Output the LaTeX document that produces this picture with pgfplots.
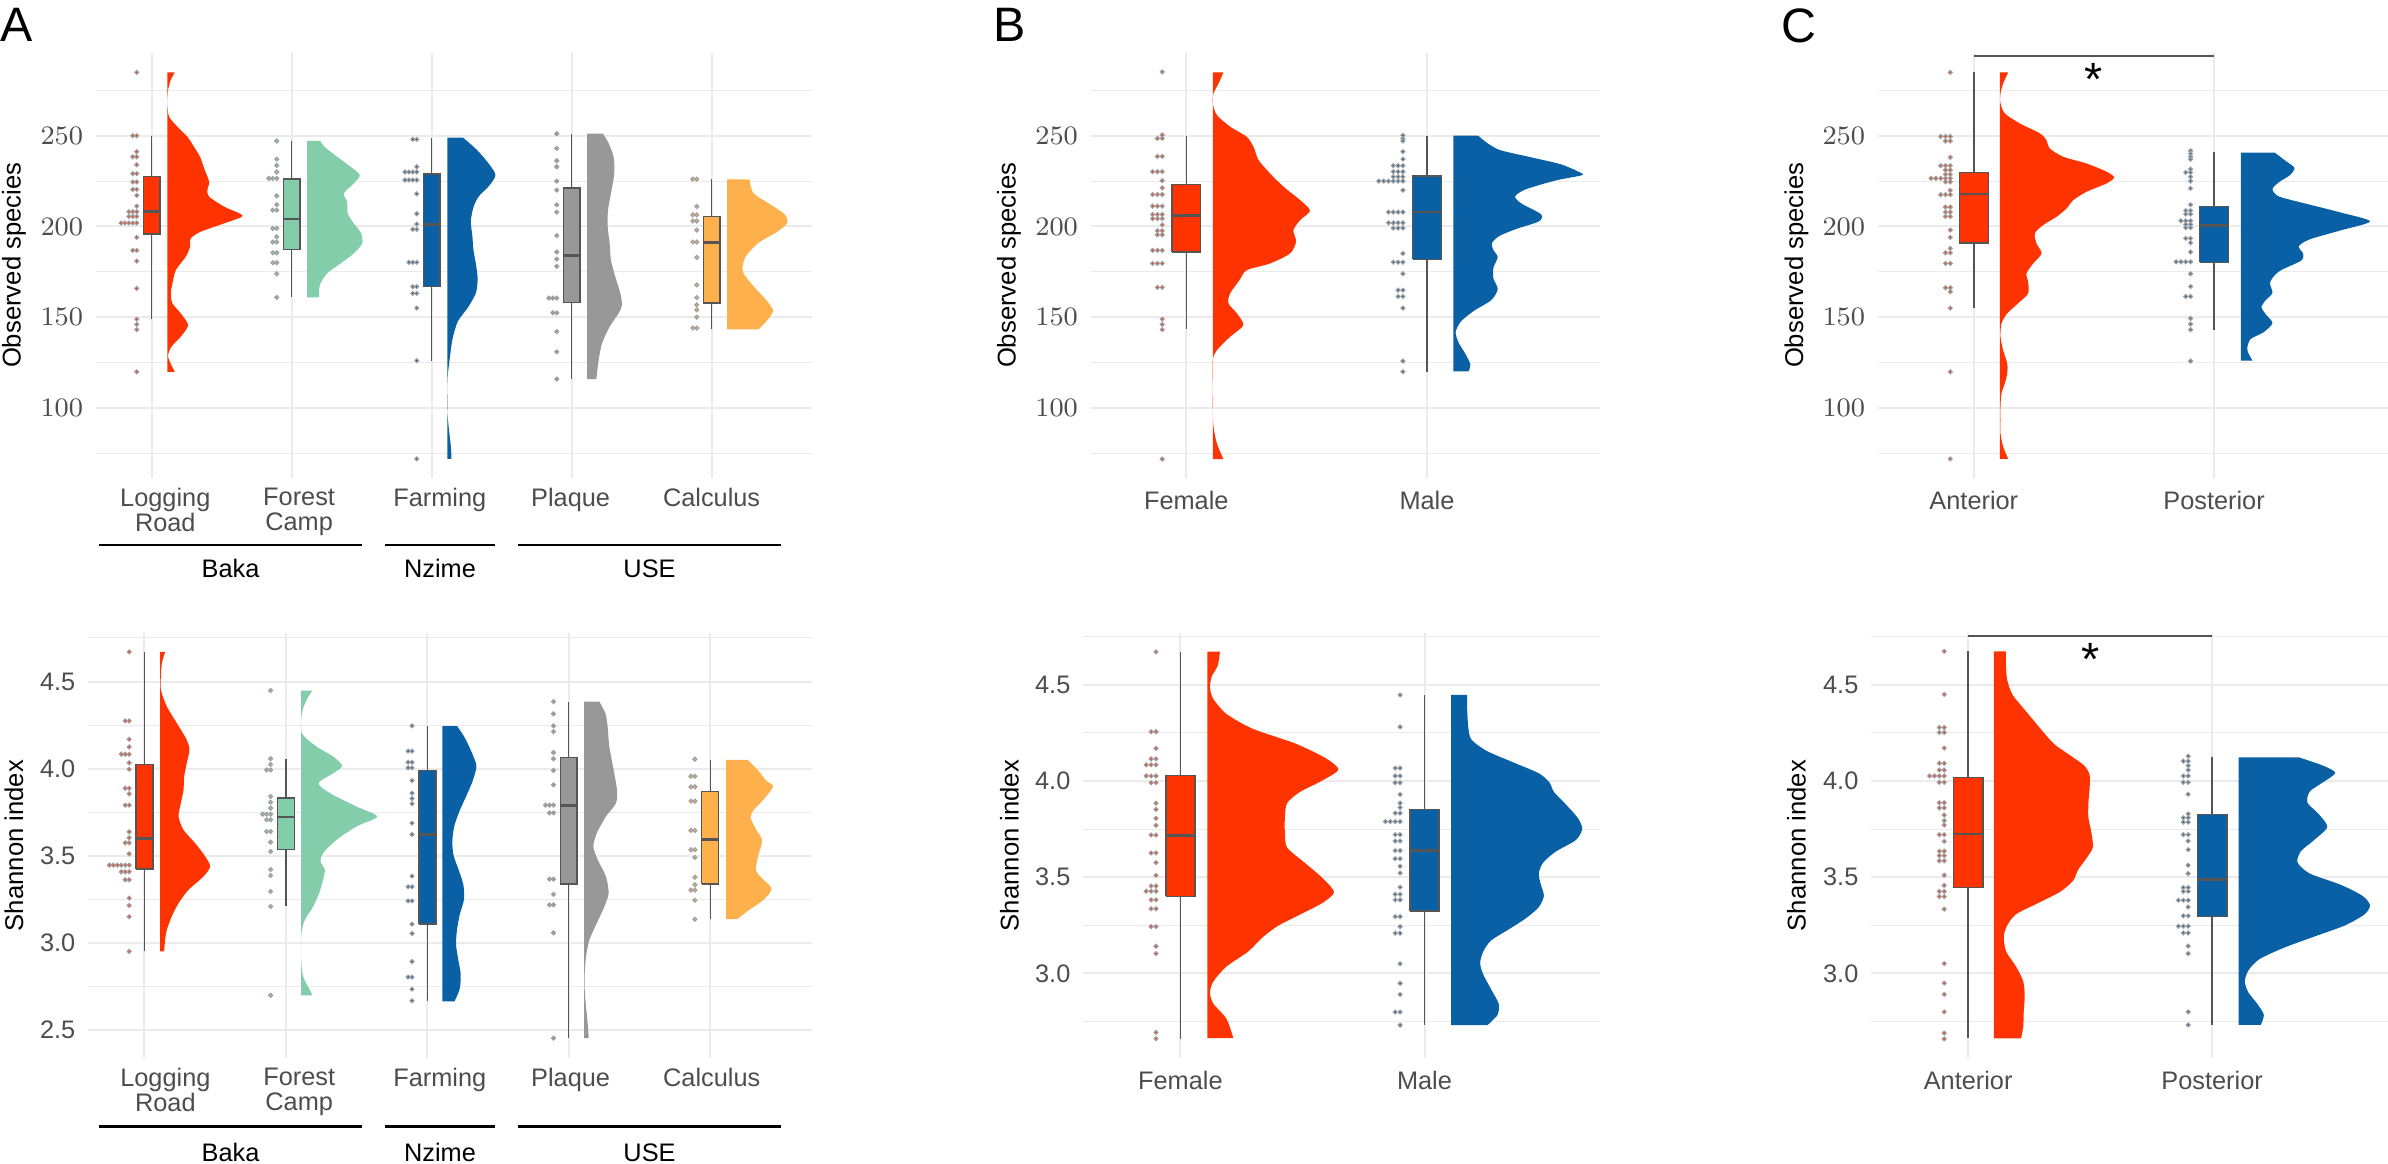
\documentclass[border=0pt]{standalone}
\usepackage{pgfplots}
\pgfplotsset{compat=1.18}
\usepackage{fontspec}
\setmainfont{Liberation Sans}
\definecolor{cred}{RGB}{255,51,0}
\definecolor{cgreen}{RGB}{131,205,170}
\definecolor{cblue}{RGB}{10,96,164}
\definecolor{cgray}{RGB}{152,152,152}
\definecolor{corange}{RGB}{253,176,75}
\definecolor{boxline}{RGB}{85,85,85}
\definecolor{gridc}{RGB}{235,235,235}
\definecolor{ticktext}{RGB}{77,77,77}
\definecolor{dotedge}{RGB}{160,160,160}
\newcommand{\tickfont}{\fontsize{7.6}{7.5}\selectfont}
\newcommand{\titlefont}{\fontsize{7.7}{9}\selectfont}
% box: #1 position, #2 left, #3 right, #4 colour, #5 lower whisker, #6 q1, #7 median, #8 q3, #9 upper whisker
\newcommand{\rbox}[9]{%
  \addplot[boxline, line width=0.4pt] coordinates {(#1,#5) (#1,#9)};
  \addplot[fill=#4, draw=boxline, line width=0.45pt] coordinates {(#2,#6) (#3,#6) (#3,#8) (#2,#8) (#2,#6)};
  \addplot[boxline, line width=0.8pt] coordinates {(#2,#7) (#3,#7)};
}
% half violin: #1 colour, #2 base x, #3 top value, #4 bottom value, #5 rows (value, width)
\newcommand{\rain}[5]{%
  \addplot[fill=#1, draw=none, smooth, tension=0.45] table[row sep=\\, x expr=#2+\thisrow{w}, y=v] {v w\\ #5} -- (axis cs:#2,#4) -- (axis cs:#2,#3) -- cycle;
}
\pgfplotsset{
  rc/.style={
    scale only axis, anchor=north west,
    axis line style={draw=none},
    major tick length=0pt, minor tick length=0pt,
    xmajorgrids=true, ymajorgrids=true, yminorgrids=true,
    major grid style={draw=gridc, line width=0.6pt},
    minor grid style={draw=gridc, line width=0.3pt},
    tick label style={font=\tickfont, text=ticktext},
    yticklabel style={anchor=east, inner sep=0pt, xshift=-3.6pt},
    xticklabel style={anchor=north, inner sep=0pt, align=center},
    every axis y label/.style={at={(rel axis cs:0,0.5)}, rotate=90, anchor=center, font=\titlefont, text=black},
  },
  topS/.style={ymin=61.5, ymax=295.7, ytick={100,150,200,250}, minor ytick={75,125,175,225,275}, ylabel={Observed species}},
  botA/.style={ymin=2.342, ymax=4.777, ytick={2.5,3,3.5,4,4.5}, yticklabels={2.5,3.0,3.5,4.0,4.5}, minor ytick={2.75,3.25,3.75,4.25,4.75}, ylabel={Shannon index}},
  botBC/.style={ymin=2.561, ymax=4.768, ytick={3,3.5,4,4.5}, yticklabels={3.0,3.5,4.0,4.5}, minor ytick={2.75,3.25,3.75,4.25,4.75}, ylabel={Shannon index}},
  dots/.style={only marks, mark=*, mark size=0.58pt, mark options={fill=#1, draw=dotedge, line width=0.36pt}},
}
\begin{document}
\begin{tikzpicture}
\path[use as bounding box] (0,0) rectangle (716.4pt,-348.9pt);
% ================= A top =================
\begin{axis}[rc, topS, at={(28.71pt,-15.84pt)}, width=214.89pt, height=127.47pt,
  xmin=0.6, xmax=5.716, xtick={1,2,3,4,5}, xticklabels={,,,,},
  extra x ticks={1.097,2.053,3.058,3.992,4.999},
  extra x tick labels={Logging\\Road,Forest\\Camp,Farming,Plaque,Calculus},
  extra x tick style={grid=none}, xticklabel style={yshift=-3pt}, ylabel style={yshift=24.5pt}]
\rain{cred}{1.112}{284.9}{119.9}{284.9 0.052\\ 280.7 0.024\\ 275.2 0.005\\ 267.8 0\\ 260.5 0.012\\ 255.0 0.071\\ 249.4 0.143\\ 243.9 0.190\\ 238.4 0.233\\ 231.1 0.267\\ 224.6 0.298\\ 220.0 0.286\\ 216.4 0.298\\ 210.9 0.405\\ 205.9 0.536\\ 201.7 0.405\\ 197.1 0.238\\ 193.4 0.167\\ 188.8 0.162\\ 183.3 0.131\\ 175.9 0.060\\ 168.6 0.036\\ 163.1 0.024\\ 157.6 0.036\\ 152.1 0.095\\ 145.6 0.148\\ 139.2 0.095\\ 133.7 0.029\\ 128.2 0.005\\ 119.9 0.052\\}
\rain{cgreen}{2.110}{247.1}{160.9}{247.1 0.095\\ 243.9 0.124\\ 238.4 0.214\\ 232.9 0.310\\ 228.3 0.376\\ 223.7 0.333\\ 218.2 0.262\\ 213.6 0.286\\ 207.2 0.290\\ 201.7 0.333\\ 196.2 0.386\\ 190.6 0.393\\ 185.1 0.333\\ 179.6 0.238\\ 174.1 0.143\\ 168.6 0.095\\ 164.9 0.086\\ 160.9 0.086\\}
\rain{cblue}{3.111}{249.0}{71.9}{249.0 0.112\\ 242.1 0.213\\ 234.3 0.299\\ 228.3 0.344\\ 222.4 0.299\\ 216.5 0.224\\ 210.6 0.187\\ 202.8 0.168\\ 194.9 0.179\\ 187.0 0.187\\ 179.1 0.205\\ 171.3 0.217\\ 163.4 0.205\\ 155.5 0.149\\ 147.6 0.075\\ 137.8 0.037\\ 128.0 0.019\\ 118.1 0.004\\ 108.3 0\\ 98.4 0\\ 88.6 0.011\\ 78.7 0.026\\ 71.9 0.030\\}
\rain{cgray}{4.109}{251.1}{115.9}{251.1 0.114\\ 245.8 0.155\\ 238.4 0.190\\ 229.2 0.195\\ 218.2 0.171\\ 209.0 0.150\\ 199.8 0.148\\ 190.6 0.162\\ 181.4 0.171\\ 172.3 0.202\\ 163.1 0.238\\ 156.7 0.250\\ 152.1 0.226\\ 144.8 0.162\\ 135.5 0.107\\ 126.3 0.083\\ 115.9 0.067\\}
\rain{corange}{5.109}{226.0}{143.3}{226.0 0.161\\ 218.5 0.187\\ 212.6 0.299\\ 206.7 0.411\\ 201.8 0.430\\ 196.9 0.355\\ 190.9 0.224\\ 183.1 0.131\\ 175.2 0.112\\ 167.3 0.187\\ 159.4 0.280\\ 153.5 0.329\\ 147.6 0.280\\ 143.3 0.224\\}
\rbox{1}{0.94}{1.06}{cred}{149}{195.8}{208.1}{227.4}{250}
\rbox{2}{1.94}{2.06}{cgreen}{160.9}{187.2}{204.1}{226.1}{247.1}
\rbox{3}{2.94}{3.06}{cblue}{126}{166.8}{201.1}{229}{248.9}
\rbox{4}{3.94}{4.06}{cgray}{115.9}{158.1}{184}{221.3}{251.1}
\rbox{5}{4.94}{5.06}{corange}{143.3}{157.9}{191.3}{205.5}{226}
\addplot[dots=cred] coordinates {(0.893,284.9)(0.893,250)(0.865,250)(0.893,241.2)(0.893,238.4)(0.865,238.4)(0.893,234.0)(0.893,229.1)(0.865,229.1)(0.893,224.5)(0.865,224.5)(0.893,220.4)(0.865,220.4)(0.893,217.1)(0.893,211.2)(0.893,208.1)(0.865,208.1)(0.837,208.1)(0.893,205.5)(0.865,205.5)(0.837,205.5)(0.893,201.9)(0.865,201.9)(0.837,201.9)(0.809,201.9)(0.781,201.9)(0.893,194.0)(0.893,186.8)(0.865,186.8)(0.893,180.9)(0.893,165.8)(0.893,148.9)(0.893,146.0)(0.893,143.1)(0.893,119.9)};
\addplot[dots=cgreen] coordinates {(1.893,247.1)(1.893,237.1)(1.893,233.6)(1.893,230.0)(1.893,226.5)(1.865,226.5)(1.837,226.5)(1.893,216.9)(1.893,212.0)(1.893,209.0)(1.865,209.0)(1.893,198.9)(1.865,198.9)(1.893,194.3)(1.893,191.4)(1.865,191.4)(1.893,185.5)(1.865,185.5)(1.893,180.0)(1.865,180.0)(1.893,173.9)(1.893,160.9)};
\addplot[dots=cblue] coordinates {(2.893,248)(2.865,248)(2.893,232.9)(2.893,230)(2.865,230)(2.837,230)(2.809,230)(2.893,225.6)(2.865,225.6)(2.837,225.6)(2.809,225.6)(2.893,218)(2.893,207)(2.893,201.3)(2.893,198.4)(2.865,198.4)(2.893,180.2)(2.865,180.2)(2.837,180.2)(2.893,166.8)(2.865,166.8)(2.893,163.1)(2.865,163.1)(2.893,155)(2.893,126)(2.893,71.9)};
\addplot[dots=cgray] coordinates {(3.893,251.1)(3.893,243)(3.893,236.2)(3.893,232.9)(3.893,225)(3.893,220)(3.893,211.9)(3.893,207.9)(3.893,194.9)(3.893,185.9)(3.893,182)(3.893,178)(3.893,160.5)(3.865,160.5)(3.837,160.5)(3.893,152.4)(3.865,152.4)(3.893,142)(3.893,130.9)(3.893,115.9)};
\addplot[dots=corange] coordinates {(4.893,226.1)(4.865,226.1)(4.893,211)(4.893,206.4)(4.865,206.4)(4.893,203)(4.865,203)(4.893,198)(4.893,191.4)(4.865,191.4)(4.893,182.9)(4.893,167.8)(4.893,160.8)(4.893,156.8)(4.893,154)(4.893,150)(4.893,144)(4.865,144)};
\end{axis}
% ================= A bottom =================
\begin{axis}[rc, botA, at={(26.37pt,-189.96pt)}, width=217.23pt, height=127.38pt,
  xmin=0.6, xmax=5.72, xtick={1,2,3,4,5}, xticklabels={,,,,},
  extra x ticks={1.148,2.094,3.088,4.013,5.011},
  extra x tick labels={Logging\\Road,Forest\\Camp,Farming,Plaque,Calculus},
  extra x tick style={grid=none}, xticklabel style={yshift=-3pt}, ylabel style={yshift=22.2pt}]
\rain{cred}{1.111}{4.670}{2.952}{4.670 0.035\\ 4.605 0.012\\ 4.529 0.005\\ 4.452 0.005\\ 4.357 0.047\\ 4.261 0.118\\ 4.166 0.188\\ 4.108 0.207\\ 4.032 0.188\\ 3.955 0.170\\ 3.879 0.165\\ 3.802 0.146\\ 3.726 0.130\\ 3.649 0.165\\ 3.573 0.247\\ 3.497 0.318\\ 3.439 0.353\\ 3.382 0.306\\ 3.305 0.200\\ 3.229 0.130\\ 3.153 0.082\\ 3.076 0.047\\ 3.019 0.035\\ 2.952 0.028\\}
\rain{cgreen}{2.108}{4.448}{2.700}{4.448 0.080\\ 4.395 0.038\\ 4.318 0.005\\ 4.204 0.005\\ 4.127 0.108\\ 4.070 0.226\\ 4.016 0.290\\ 3.974 0.226\\ 3.917 0.122\\ 3.860 0.203\\ 3.783 0.391\\ 3.726 0.537\\ 3.669 0.391\\ 3.592 0.250\\ 3.516 0.155\\ 3.468 0.137\\ 3.420 0.167\\ 3.363 0.155\\ 3.286 0.127\\ 3.210 0.085\\ 3.133 0.026\\ 3.057 0.002\\ 2.904 0\\ 2.808 0.014\\ 2.732 0.061\\ 2.700 0.080\\}
\rain{cblue}{3.107}{4.244}{2.666}{4.244 0.103\\ 4.186 0.152\\ 4.101 0.203\\ 4.016 0.240\\ 3.931 0.214\\ 3.846 0.170\\ 3.760 0.122\\ 3.675 0.085\\ 3.589 0.070\\ 3.505 0.078\\ 3.419 0.115\\ 3.334 0.148\\ 3.249 0.152\\ 3.163 0.122\\ 3.078 0.103\\ 2.993 0.096\\ 2.908 0.111\\ 2.822 0.129\\ 2.737 0.122\\ 2.666 0.085\\}
\rain{cgray}{4.108}{4.385}{2.455}{4.385 0.108\\ 4.318 0.151\\ 4.242 0.167\\ 4.127 0.179\\ 3.974 0.214\\ 3.879 0.233\\ 3.802 0.226\\ 3.726 0.155\\ 3.630 0.090\\ 3.554 0.066\\ 3.477 0.097\\ 3.382 0.155\\ 3.286 0.174\\ 3.210 0.144\\ 3.114 0.090\\ 3.019 0.038\\ 2.923 0.014\\ 2.828 0.005\\ 2.732 0.005\\ 2.636 0.014\\ 2.541 0.026\\ 2.455 0.033\\}
\rain{corange}{5.112}{4.050}{3.138}{4.050 0.155\\ 3.995 0.222\\ 3.931 0.285\\ 3.899 0.333\\ 3.824 0.266\\ 3.760 0.192\\ 3.717 0.174\\ 3.654 0.211\\ 3.589 0.255\\ 3.505 0.229\\ 3.419 0.211\\ 3.377 0.248\\ 3.312 0.322\\ 3.249 0.266\\ 3.185 0.155\\ 3.138 0.081\\}
\rbox{1}{0.94}{1.06}{cred}{2.952}{3.424}{3.600}{4.024}{4.670}
\rbox{2}{1.94}{2.06}{cgreen}{3.21}{3.537}{3.724}{3.833}{4.055}
\rbox{3}{2.94}{3.06}{cblue}{2.669}{3.109}{3.623}{3.990}{4.246}
\rbox{4}{3.94}{4.06}{cgray}{2.455}{3.338}{3.789}{4.064}{4.385}
\rbox{5}{4.94}{5.06}{corange}{3.138}{3.340}{3.594}{3.869}{4.050}
\addplot[dots=cred] coordinates {(0.892,4.670)(0.892,4.274)(0.864,4.274)(0.892,4.169)(0.892,4.125)(0.892,4.083)(0.864,4.083)(0.836,4.083)(0.892,4.034)(0.892,3.997)(0.892,3.888)(0.864,3.888)(0.892,3.856)(0.892,3.791)(0.864,3.791)(0.892,3.638)(0.892,3.604)(0.892,3.575)(0.864,3.575)(0.892,3.512)(0.892,3.447)(0.864,3.447)(0.836,3.447)(0.808,3.447)(0.780,3.447)(0.752,3.447)(0.892,3.409)(0.864,3.409)(0.836,3.409)(0.892,3.363)(0.864,3.363)(0.892,3.258)(0.892,3.216)(0.892,3.151)(0.892,2.952)};
\addplot[dots=cgreen] coordinates {(1.892,4.448)(1.892,4.058)(1.892,4.024)(1.892,3.993)(1.864,3.993)(1.892,3.841)(1.892,3.808)(1.892,3.774)(1.892,3.739)(1.864,3.739)(1.836,3.739)(1.892,3.707)(1.864,3.707)(1.892,3.640)(1.864,3.640)(1.892,3.579)(1.892,3.525)(1.892,3.422)(1.892,3.388)(1.892,3.296)(1.892,3.210)(1.892,2.700)};
\addplot[dots=cblue] coordinates {(2.892,4.246)(2.892,4.101)(2.864,4.101)(2.892,4.037)(2.864,4.037)(2.892,4.005)(2.864,4.005)(2.892,3.932)(2.892,3.860)(2.892,3.829)(2.892,3.799)(2.892,3.688)(2.892,3.623)(2.892,3.384)(2.892,3.323)(2.864,3.323)(2.892,3.242)(2.864,3.242)(2.892,3.109)(2.892,3.055)(2.892,2.894)(2.892,2.805)(2.864,2.805)(2.892,2.736)(2.892,2.669)};
\addplot[dots=cgray] coordinates {(3.892,4.385)(3.892,4.315)(3.892,4.246)(3.892,4.213)(3.892,4.093)(3.892,4.057)(3.892,3.990)(3.892,3.907)(3.892,3.791)(3.864,3.791)(3.836,3.791)(3.892,3.747)(3.864,3.747)(3.892,3.367)(3.864,3.367)(3.892,3.279)(3.892,3.219)(3.864,3.219)(3.892,3.059)(3.892,2.455)};
\addplot[dots=corange] coordinates {(4.892,4.055)(4.892,3.957)(4.864,3.957)(4.892,3.896)(4.864,3.896)(4.892,3.814)(4.864,3.814)(4.892,3.646)(4.864,3.646)(4.892,3.535)(4.864,3.535)(4.892,3.491)(4.892,3.378)(4.892,3.334)(4.892,3.304)(4.864,3.304)(4.892,3.246)(4.892,3.137)};
\end{axis}
% ================= B top =================
\begin{axis}[rc, topS, at={(327.15pt,-15.84pt)}, width=152.85pt, height=127.47pt,
  xmin=0.602, xmax=2.719, xtick={1,2}, xticklabels={Female,Male}, xticklabel style={yshift=-3.9pt}, ylabel style={yshift=24.45pt}]
\rain{cred}{1.110}{284.9}{71.8}{284.9 0.044\\ 278.8 0.024\\ 273.3 0.003\\ 267.8 0\\ 261.4 0.017\\ 255.0 0.072\\ 249.4 0.141\\ 243.9 0.169\\ 236.6 0.190\\ 229.2 0.238\\ 221.9 0.294\\ 214.5 0.363\\ 208.7 0.404\\ 203.5 0.363\\ 198.0 0.335\\ 191.6 0.346\\ 185.1 0.321\\ 179.6 0.238\\ 175.9 0.141\\ 170.4 0.111\\ 163.1 0.072\\ 157.6 0.065\\ 152.1 0.100\\ 145.6 0.127\\ 139.2 0.072\\ 131.8 0.017\\ 126.3 0\\ 112.5 0\\ 98.8 0\\ 89.6 0.003\\ 80.4 0.017\\ 71.8 0.044\\}
\rain{cblue}{2.110}{250.0}{120.1}{250.0 0.103\\ 246.1 0.139\\ 242.1 0.193\\ 238.2 0.319\\ 234.3 0.445\\ 230.3 0.517\\ 228.3 0.535\\ 225.4 0.427\\ 220.5 0.301\\ 216.5 0.256\\ 212.6 0.283\\ 206.7 0.364\\ 202.8 0.355\\ 198.8 0.265\\ 194.9 0.193\\ 190.9 0.160\\ 187.0 0.166\\ 183.1 0.184\\ 177.2 0.166\\ 171.3 0.166\\ 165.4 0.184\\ 159.4 0.157\\ 153.5 0.085\\ 147.6 0.031\\ 141.7 0.009\\ 135.8 0.022\\ 129.9 0.049\\ 124.0 0.070\\ 120.1 0.063\\}
\rbox{1}{0.94}{1.06}{cred}{143.2}{185.9}{206.1}{223}{249.8}
\rbox{2}{1.94}{2.06}{cblue}{119.9}{181.8}{207.9}{227.8}{249.8}
\addplot[dots=cred] coordinates {(0.9,285.2)(0.9,250.4)(0.9,248.5)(0.88,248.5)(0.9,238.6)(0.88,238.6)(0.9,230.2)(0.88,230.2)(0.86,230.2)(0.9,225.2)(0.9,221.3)(0.9,217.6)(0.88,217.6)(0.86,217.6)(0.9,211.2)(0.88,211.2)(0.86,211.2)(0.9,206.6)(0.88,206.6)(0.86,206.6)(0.9,204.3)(0.88,204.3)(0.86,204.3)(0.9,200.9)(0.9,197.6)(0.88,197.6)(0.9,195.4)(0.88,195.4)(0.9,186.8)(0.88,186.8)(0.86,186.8)(0.9,179.6)(0.88,179.6)(0.86,179.6)(0.9,166.4)(0.88,166.4)(0.9,148.9)(0.9,146)(0.9,143.1)(0.9,71.8)};
\addplot[dots=cblue] coordinates {(1.9,250.2)(1.9,248.5)(1.9,247.1)(1.9,241.2)(1.9,237.1)(1.9,233.5)(1.88,233.5)(1.86,233.5)(1.9,230.2)(1.88,230.2)(1.86,230.2)(1.9,227.4)(1.88,227.4)(1.86,227.4)(1.9,225)(1.88,225)(1.86,225)(1.84,225)(1.82,225)(1.8,225)(1.9,220)(1.9,207.9)(1.88,207.9)(1.86,207.9)(1.84,207.9)(1.9,202)(1.88,202)(1.86,202)(1.84,202)(1.9,199.1)(1.88,199.1)(1.86,199.1)(1.9,185.1)(1.9,180.3)(1.88,180.3)(1.86,180.3)(1.9,173.9)(1.9,164.9)(1.88,164.9)(1.9,161.4)(1.88,161.4)(1.9,155)(1.9,125.8)(1.9,119.9)};
\end{axis}
% ================= B bottom =================
\begin{axis}[rc, botBC, at={(324.9pt,-189.96pt)}, width=155.1pt, height=127.38pt,
  xmin=0.601, xmax=2.719, xtick={1,2}, xticklabels={Female,Male}, xticklabel style={yshift=-3.9pt}, ylabel style={yshift=22.1pt}]
\rain{cred}{1.110}{4.672}{2.663}{4.672 0.052\\ 4.600 0.043\\ 4.542 0.018\\ 4.484 0.011\\ 4.426 0.025\\ 4.349 0.078\\ 4.272 0.185\\ 4.194 0.362\\ 4.117 0.487\\ 4.059 0.537\\ 4.001 0.469\\ 3.943 0.380\\ 3.885 0.327\\ 3.808 0.318\\ 3.731 0.318\\ 3.654 0.327\\ 3.576 0.398\\ 3.499 0.469\\ 3.422 0.519\\ 3.364 0.469\\ 3.306 0.380\\ 3.248 0.291\\ 3.190 0.229\\ 3.113 0.167\\ 3.035 0.078\\ 2.958 0.025\\ 2.900 0.011\\ 2.842 0.025\\ 2.765 0.078\\ 2.663 0.107\\}
\rain{cblue}{2.109}{4.447}{2.731}{4.447 0.066\\ 4.368 0.066\\ 4.272 0.071\\ 4.214 0.084\\ 4.156 0.146\\ 4.098 0.252\\ 4.040 0.359\\ 3.992 0.403\\ 3.943 0.421\\ 3.885 0.465\\ 3.808 0.519\\ 3.750 0.537\\ 3.692 0.510\\ 3.634 0.430\\ 3.576 0.377\\ 3.518 0.359\\ 3.460 0.368\\ 3.402 0.380\\ 3.344 0.359\\ 3.286 0.306\\ 3.228 0.235\\ 3.170 0.163\\ 3.112 0.131\\ 3.054 0.119\\ 2.996 0.131\\ 2.919 0.163\\ 2.842 0.195\\ 2.784 0.190\\ 2.731 0.149\\}
\rbox{1}{0.94}{1.06}{cred}{2.661}{3.400}{3.717}{4.028}{4.671}
\rbox{2}{1.94}{2.06}{cblue}{2.731}{3.323}{3.638}{3.852}{4.447}
\addplot[dots=cred] coordinates {(0.9,4.671)(0.9,4.256)(0.88,4.256)(0.9,4.169)(0.9,4.115)(0.88,4.115)(0.9,4.084)(0.88,4.084)(0.86,4.084)(0.9,4.026)(0.88,4.026)(0.86,4.026)(0.9,3.991)(0.88,3.991)(0.9,3.885)(0.9,3.852)(0.9,3.806)(0.9,3.769)(0.9,3.719)(0.88,3.719)(0.9,3.626)(0.88,3.626)(0.9,3.576)(0.9,3.509)(0.9,3.454)(0.88,3.454)(0.9,3.427)(0.88,3.427)(0.86,3.427)(0.9,3.382)(0.88,3.382)(0.9,3.336)(0.88,3.336)(0.9,3.243)(0.88,3.243)(0.9,3.141)(0.9,3.103)(0.9,2.693)(0.9,2.661)};
\addplot[dots=cblue] coordinates {(1.9,4.447)(1.9,4.281)(1.9,4.067)(1.88,4.067)(1.9,4.026)(1.88,4.026)(1.9,3.991)(1.88,3.991)(1.9,3.930)(1.9,3.885)(1.9,3.862)(1.9,3.833)(1.88,3.833)(1.9,3.789)(1.88,3.789)(1.86,3.789)(1.84,3.789)(1.9,3.721)(1.88,3.721)(1.9,3.688)(1.88,3.688)(1.9,3.638)(1.88,3.638)(1.9,3.596)(1.88,3.596)(1.9,3.557)(1.9,3.522)(1.9,3.448)(1.9,3.411)(1.88,3.411)(1.9,3.382)(1.88,3.382)(1.9,3.295)(1.88,3.295)(1.9,3.243)(1.9,3.209)(1.88,3.209)(1.9,3.050)(1.9,2.948)(1.9,2.890)(1.9,2.799)(1.88,2.799)(1.9,2.731)};
\end{axis}
% ================= C top =================
\begin{axis}[rc, topS, at={(563.31pt,-15.84pt)}, width=153.09pt, height=127.47pt,
  xmin=0.6, xmax=2.724, xtick={1,2}, xticklabels={Anterior,Posterior}, xticklabel style={yshift=-3.9pt}, ylabel style={yshift=24.4pt}]
\rain{cred}{1.108}{284.9}{71.9}{284.9 0.035\\ 278.8 0.014\\ 273.3 0.003\\ 267.8 0.003\\ 262.3 0.021\\ 256.8 0.083\\ 251.3 0.167\\ 247.6 0.194\\ 243.0 0.208\\ 238.4 0.264\\ 234.7 0.361\\ 230.2 0.444\\ 227.0 0.476\\ 223.7 0.444\\ 219.1 0.361\\ 214.5 0.306\\ 209.9 0.278\\ 205.3 0.236\\ 200.8 0.181\\ 196.2 0.146\\ 190.6 0.153\\ 185.1 0.174\\ 179.6 0.139\\ 174.1 0.111\\ 169.5 0.118\\ 163.1 0.118\\ 157.6 0.076\\ 152.1 0.031\\ 146.5 0.007\\ 139.2 0.003\\ 131.8 0.014\\ 124.5 0.031\\ 119.0 0.031\\ 113.5 0.021\\ 108.0 0.007\\ 100.6 0.003\\ 93.3 0.003\\ 85.9 0.003\\ 78.6 0.014\\ 71.9 0.035\\}
\rain{cblue}{2.111}{240.7}{126.0}{240.7 0.141\\ 236.2 0.186\\ 232.3 0.223\\ 228.3 0.205\\ 224.4 0.159\\ 220.5 0.132\\ 216.5 0.159\\ 212.6 0.269\\ 207.7 0.415\\ 202.8 0.538\\ 197.8 0.415\\ 192.9 0.287\\ 189.0 0.241\\ 185.0 0.260\\ 181.1 0.250\\ 175.2 0.159\\ 169.3 0.122\\ 163.4 0.132\\ 159.4 0.104\\ 155.5 0.086\\ 151.6 0.104\\ 146.7 0.132\\ 141.7 0.095\\ 137.8 0.040\\ 131.9 0.027\\ 126.0 0.049\\}
\rbox{1}{0.94}{1.06}{cred}{155}{191}{217.8}{229.8}{284.9}
\rbox{2}{1.94}{2.06}{cblue}{143.1}{180.2}{200.6}{211}{240.8}
\addplot[dots=cred] coordinates {(0.902,284.9)(0.902,249.6)(0.882,249.6)(0.862,249.6)(0.902,247.1)(0.882,247.1)(0.902,238.1)(0.902,233.5)(0.882,233.5)(0.862,233.5)(0.902,231.1)(0.882,231.1)(0.902,228.7)(0.882,228.7)(0.902,226.5)(0.882,226.5)(0.862,226.5)(0.842,226.5)(0.822,226.5)(0.902,224.6)(0.882,224.6)(0.902,219.9)(0.902,217.5)(0.882,217.5)(0.862,217.5)(0.902,210.7)(0.882,210.7)(0.902,207.9)(0.882,207.9)(0.902,205.5)(0.882,205.5)(0.902,198)(0.902,194)(0.902,187.9)(0.902,185.5)(0.882,185.5)(0.902,179.6)(0.882,179.6)(0.902,166.2)(0.882,166.2)(0.902,164)(0.902,155)(0.902,119.9)(0.902,71.9)};
\addplot[dots=cblue] coordinates {(1.902,241.7)(1.902,240.1)(1.902,238.4)(1.902,237)(1.902,231.6)(1.902,229.8)(1.882,229.8)(1.902,227.4)(1.902,225)(1.902,221)(1.902,212)(1.902,208.7)(1.882,208.7)(1.902,206.8)(1.882,206.8)(1.902,203.1)(1.882,203.1)(1.862,203.1)(1.902,201.1)(1.882,201.1)(1.902,199.3)(1.882,199.3)(1.902,193.4)(1.882,193.4)(1.902,191)(1.902,185.9)(1.902,180.5)(1.882,180.5)(1.862,180.5)(1.842,180.5)(1.902,173.9)(1.902,166.9)(1.902,161.4)(1.882,161.4)(1.902,149.3)(1.902,146.2)(1.902,143.1)(1.902,125.8)};
\addplot[boxline, line width=0.6pt] coordinates {(1,294.1) (2,294.1)};
\node[anchor=north, inner sep=0pt, font=\fontsize{14}{14}\selectfont] at (axis cs:1.5,290.3) {*};
\end{axis}
% ================= C bottom =================
\begin{axis}[rc, botBC, at={(561.3pt,-189.96pt)}, width=155.1pt, height=127.38pt,
  xmin=0.602, xmax=2.721, xtick={1,2}, xticklabels={Anterior,Posterior}, xticklabel style={yshift=-3.9pt}, ylabel style={yshift=22.35pt}]
\rain{cred}{1.106}{4.674}{2.662}{4.674 0.049\\ 4.603 0.049\\ 4.525 0.054\\ 4.448 0.076\\ 4.370 0.126\\ 4.274 0.189\\ 4.196 0.243\\ 4.138 0.306\\ 4.081 0.369\\ 4.032 0.392\\ 3.964 0.392\\ 3.887 0.387\\ 3.809 0.387\\ 3.732 0.399\\ 3.655 0.405\\ 3.597 0.378\\ 3.539 0.345\\ 3.481 0.324\\ 3.423 0.270\\ 3.365 0.180\\ 3.307 0.090\\ 3.249 0.054\\ 3.191 0.040\\ 3.113 0.050\\ 3.036 0.090\\ 2.958 0.120\\ 2.881 0.126\\ 2.804 0.122\\ 2.726 0.120\\ 2.662 0.111\\}
\rain{cblue}{2.109}{4.123}{2.732}{4.123 0.246\\ 4.080 0.345\\ 4.042 0.396\\ 3.993 0.345\\ 3.945 0.291\\ 3.887 0.282\\ 3.829 0.327\\ 3.761 0.363\\ 3.693 0.309\\ 3.635 0.255\\ 3.577 0.241\\ 3.519 0.291\\ 3.461 0.417\\ 3.403 0.507\\ 3.355 0.538\\ 3.307 0.516\\ 3.249 0.435\\ 3.191 0.309\\ 3.132 0.183\\ 3.074 0.085\\ 3.016 0.040\\ 2.958 0.025\\ 2.900 0.040\\ 2.842 0.076\\ 2.784 0.103\\ 2.732 0.090\\}
\rbox{1}{0.94}{1.06}{cred}{2.662}{3.446}{3.724}{4.018}{4.674}
\rbox{2}{1.94}{2.06}{cblue}{2.732}{3.295}{3.488}{3.825}{4.123}
\addplot[dots=cred] coordinates {(0.902,4.674)(0.902,4.450)(0.902,4.278)(0.882,4.278)(0.902,4.252)(0.882,4.252)(0.902,4.171)(0.902,4.092)(0.882,4.092)(0.902,4.057)(0.882,4.057)(0.902,4.026)(0.882,4.026)(0.862,4.026)(0.842,4.026)(0.902,3.993)(0.882,3.993)(0.902,3.887)(0.882,3.887)(0.902,3.860)(0.882,3.860)(0.902,3.823)(0.902,3.794)(0.902,3.771)(0.902,3.721)(0.882,3.721)(0.902,3.686)(0.902,3.635)(0.882,3.635)(0.902,3.612)(0.882,3.612)(0.902,3.585)(0.882,3.585)(0.902,3.510)(0.902,3.457)(0.902,3.426)(0.882,3.426)(0.902,3.399)(0.882,3.399)(0.902,3.334)(0.902,3.051)(0.902,2.949)(0.902,2.891)(0.902,2.800)(0.902,2.690)(0.902,2.659)};
\addplot[dots=cblue] coordinates {(1.902,4.129)(1.902,4.103)(1.882,4.103)(1.902,4.080)(1.902,4.057)(1.902,4.026)(1.882,4.026)(1.902,3.993)(1.882,3.993)(1.902,3.931)(1.902,3.829)(1.902,3.809)(1.882,3.809)(1.902,3.786)(1.882,3.786)(1.902,3.721)(1.882,3.721)(1.902,3.688)(1.902,3.643)(1.902,3.562)(1.902,3.519)(1.902,3.446)(1.882,3.446)(1.902,3.426)(1.882,3.426)(1.902,3.380)(1.882,3.380)(1.862,3.380)(1.902,3.345)(1.902,3.299)(1.882,3.299)(1.902,3.245)(1.882,3.245)(1.862,3.245)(1.902,3.210)(1.882,3.210)(1.902,3.142)(1.902,3.103)(1.902,2.800)(1.902,2.732)};
\addplot[boxline, line width=0.6pt] coordinates {(1,4.751) (2,4.751)};
\node[anchor=north, inner sep=0pt, font=\fontsize{14}{14}\selectfont] at (axis cs:1.5,4.717) {*};
\end{axis}
% ===== group underlines and labels (panel A) =====
\draw[line width=0.65pt] (29.7pt,-163.55pt) -- (108.6pt,-163.55pt);
\draw[line width=0.65pt] (115.5pt,-163.55pt) -- (148.5pt,-163.55pt);
\draw[line width=0.65pt] (155.4pt,-163.55pt) -- (234.3pt,-163.55pt);
\node[anchor=base, inner sep=0pt, font=\tickfont] at (69.15pt,-173.1pt) {Baka};
\node[anchor=base, inner sep=0pt, font=\tickfont] at (132pt,-173.1pt) {Nzime};
\node[anchor=base, inner sep=0pt, font=\tickfont] at (194.85pt,-173.1pt) {USE};
\draw[line width=0.65pt] (29.7pt,-337.95pt) -- (108.6pt,-337.95pt);
\draw[line width=0.65pt] (115.5pt,-337.95pt) -- (148.5pt,-337.95pt);
\draw[line width=0.65pt] (155.4pt,-337.95pt) -- (234.3pt,-337.95pt);
\node[anchor=base, inner sep=0pt, font=\tickfont] at (69.15pt,-348.5pt) {Baka};
\node[anchor=base, inner sep=0pt, font=\tickfont] at (132pt,-348.5pt) {Nzime};
\node[anchor=base, inner sep=0pt, font=\tickfont] at (194.85pt,-348.5pt) {USE};
% ===== panel letters =====
\node[anchor=north west, inner sep=0pt, font=\fontsize{14.5}{15}\selectfont] at (0pt,-2.4pt) {A};
\node[anchor=north west, inner sep=0pt, font=\fontsize{14.5}{15}\selectfont] at (297.8pt,-2.4pt) {B};
\node[anchor=north west, inner sep=0pt, font=\fontsize{14.5}{15}\selectfont] at (534.2pt,-2.4pt) {C};
\end{tikzpicture}
\end{document}
